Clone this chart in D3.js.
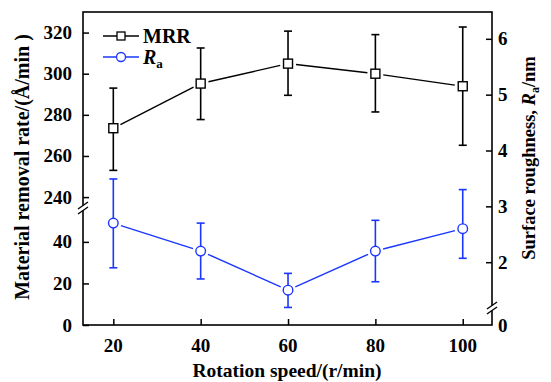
<!DOCTYPE html>
<html><head><meta charset="utf-8">
<script src="https://cdn.jsdelivr.net/npm/d3@7"></script>
<style>body{margin:0;background:#fff}svg{display:block}text{font-family:"Liberation Serif","Times New Roman",serif;font-weight:bold}</style>
</head><body><svg id="c" width="551" height="382"></svg>
<script>
const speeds = [20, 40, 60, 80, 100];
const mrr = [273.5, 295.2, 304.9, 300, 293.9];
const mrrErrHigh = [293, 312.5, 320.7, 319, 322.7];
const mrrErrLow = [253, 277.7, 289.5, 281.4, 265.2];
const ra = [2.70, 2.20, 1.50, 2.20, 2.60];
const raErrHigh = [3.49, 2.70, 1.80, 2.75, 3.30];
const raErrLow = [1.90, 1.70, 1.19, 1.65, 2.07];
const xTicks = [20, 40, 60, 80, 100];
const leftTicks = [0, 20, 40, 240, 260, 280, 300, 320];
const rightTicks = [0, 2, 3, 4, 5, 6];

const BLUE = "#1a36ff";
const svg = d3.select("#c");
const L = 83, R = 492, T = 12, B = 325;
const x = d3.scaleLinear().domain([13.06, 106.7]).range([L, R]);
const yL = d3.scaleLinear().domain([0, 56.3, 234.7, 330]).range([B, 208, 208, T]);
const yR = d3.scaleLinear().domain([0, 0.3, 1.18, 6.48]).range([B, 308, 308, T]);

const fmt = d => d;
const gx = svg.append("g").attr("transform", `translate(0,${B})`)
  .call(d3.axisTop(x).tickValues(xTicks).tickSize(6).tickFormat(""));
const gl = svg.append("g").attr("transform", `translate(${L},0)`)
  .call(d3.axisRight(yL).tickValues(leftTicks).tickSize(6).tickFormat(""));
const gr = svg.append("g").attr("transform", `translate(${R},0)`)
  .call(d3.axisLeft(yR).tickValues(rightTicks.filter(d=>d>0)).tickSize(6).tickFormat(""));
[gx, gl, gr].forEach(g => {
  g.select(".domain").remove();
  g.selectAll("line").attr("stroke", "#000").attr("stroke-width", 1.5);
});
svg.append("rect").attr("x", L).attr("y", T).attr("width", R - L).attr("height", B - T)
  .attr("fill", "none").attr("stroke", "#000").attr("stroke-width", 1.6);

function brk(cx, cy) {
  svg.append("rect").attr("x", cx - 2).attr("y", cy - 2.5).attr("width", 4).attr("height", 5).attr("fill", "#fff");
  [-2.5, 2.5].forEach(o => {
    svg.append("line").attr("x1", cx - 5).attr("y1", cy + o + 3.5).attr("x2", cx + 5).attr("y2", cy + o - 3.5)
      .attr("stroke", "#000").attr("stroke-width", 1.3);
  });
}
brk(L, 208);
brk(R, 308);

svg.append("g").selectAll("text").data(xTicks).join("text")
  .attr("x", d => x(d)).attr("y", 352).attr("text-anchor", "middle").attr("font-size", 19).text(fmt);
svg.append("g").selectAll("text").data(leftTicks).join("text")
  .attr("x", 72).attr("y", d => yL(d) + 6.5).attr("text-anchor", "end").attr("font-size", 19).text(fmt);
svg.append("g").selectAll("text").data(rightTicks).join("text")
  .attr("x", 498).attr("y", d => yR(d) + 6.5).attr("text-anchor", "start").attr("font-size", 19).text(fmt);

svg.append("text").attr("x", 287).attr("y", 377).attr("text-anchor", "middle").attr("font-size", 19.5)
  .text("Rotation speed/(r/min)");
svg.append("text").attr("transform", "translate(29,167) rotate(-90)").attr("text-anchor", "middle")
  .attr("font-size", 20).text("Material removal rate/(Å/min )");
const rt = svg.append("text").attr("transform", "translate(535,158) rotate(-90)").attr("text-anchor", "middle")
  .attr("font-size", 18.5);
rt.append("tspan").text("Surface roughness, ");
rt.append("tspan").attr("font-style", "italic").text("R");
rt.append("tspan").attr("font-size", 12).attr("dy", 4).text("a");
rt.append("tspan").attr("dy", -4).text("/nm");

function series(vals, hi, lo, y, color, shape) {
  const g = svg.append("g");
  const pts = speeds.map((s, i) => [x(s), y(vals[i])]);
  for (let i = 0; i < pts.length - 1; i++) {
    const [x1, y1] = pts[i], [x2, y2] = pts[i + 1];
    const dx = x2 - x1, dy = y2 - y1, len = Math.hypot(dx, dy), g0 = 8;
    g.append("line").attr("x1", x1 + dx / len * g0).attr("y1", y1 + dy / len * g0)
      .attr("x2", x2 - dx / len * g0).attr("y2", y2 - dy / len * g0)
      .attr("stroke", color).attr("stroke-width", 1.4);
  }
  speeds.forEach((s, i) => {
    const cx = x(s);
    g.append("line").attr("x1", cx).attr("x2", cx).attr("y1", y(hi[i])).attr("y2", y(lo[i]))
      .attr("stroke", color).attr("stroke-width", 1.6);
    [hi[i], lo[i]].forEach(v => g.append("line").attr("x1", cx - 4).attr("x2", cx + 4)
      .attr("y1", y(v)).attr("y2", y(v)).attr("stroke", color).attr("stroke-width", 1.6));
  });
  pts.forEach(([px, py]) => {
    if (shape === "square") g.append("rect").attr("x", px - 4.5).attr("y", py - 4.5).attr("width", 9).attr("height", 9)
      .attr("fill", "#fff").attr("stroke", color).attr("stroke-width", 1.4);
    else g.append("circle").attr("cx", px).attr("cy", py).attr("r", 4.8)
      .attr("fill", "#fff").attr("stroke", color).attr("stroke-width", 1.4);
  });
}
series(mrr, mrrErrHigh, mrrErrLow, yL, "#000", "square");
series(ra, raErrHigh, raErrLow, yR, BLUE, "circle");

const lg = svg.append("g");
[[36, "#000", "square"], [57, BLUE, "circle"]].forEach(([ly, c, sh]) => {
  lg.append("line").attr("x1", 103).attr("x2", 139).attr("y1", ly).attr("y2", ly).attr("stroke", c).attr("stroke-width", 1.4);
  if (sh === "square") lg.append("rect").attr("x", 117).attr("y", ly - 4).attr("width", 8).attr("height", 8)
    .attr("fill", "#fff").attr("stroke", c).attr("stroke-width", 1.3);
  else lg.append("circle").attr("cx", 121).attr("cy", ly).attr("r", 4.5).attr("fill", "#fff").attr("stroke", c).attr("stroke-width", 1.3);
});
lg.append("text").attr("x", 143).attr("y", 43).attr("font-size", 20).text("MRR");
const rl = lg.append("text").attr("x", 143).attr("y", 64).attr("font-size", 20);
rl.append("tspan").attr("font-style", "italic").text("R");
rl.append("tspan").attr("font-size", 13).attr("dy", 4).text("a");
</script></body></html>
